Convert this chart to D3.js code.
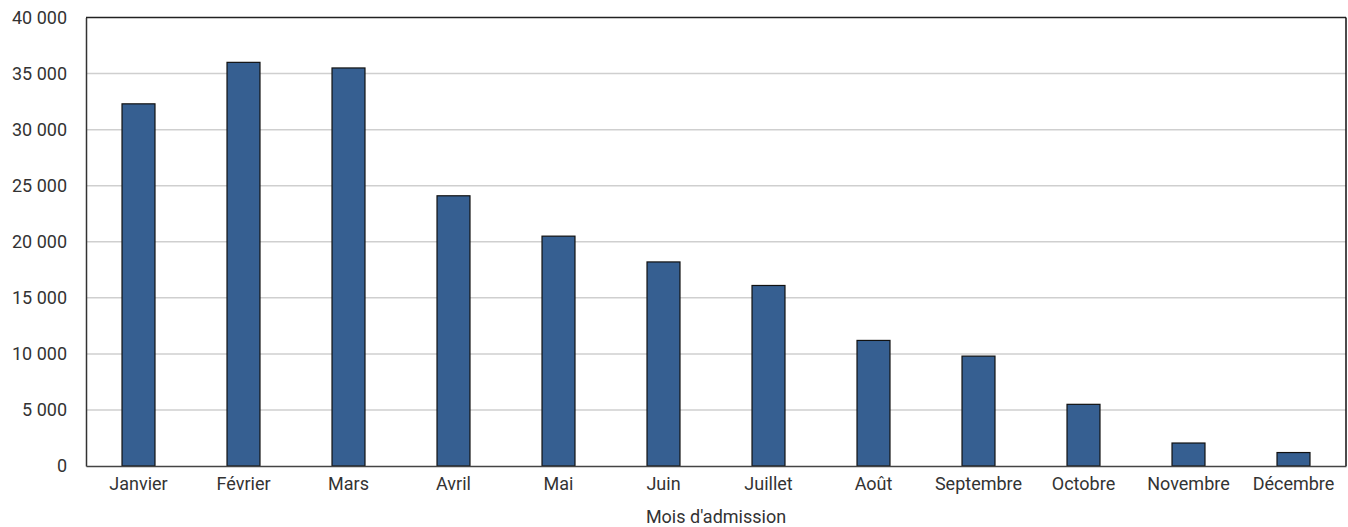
<!DOCTYPE html>
<html>
<head>
<meta charset="utf-8">
<script src="https://cdn.jsdelivr.net/npm/d3@7"></script>
<style>
  body { margin: 0; background: #fff; }
  text { font-family: "Liberation Sans Narrow", "Arial Narrow", "Roboto", sans-serif; fill: #333; }
</style>
</head>
<body>
<svg id="chart" width="1348" height="527"></svg>
<script>
// Data
const months = ["Janvier", "Février", "Mars", "Avril", "Mai", "Juin", "Juillet",
                "Août", "Septembre", "Octobre", "Novembre", "Décembre"];
const admissions = [32300, 36000, 35500, 24100, 20500, 18200, 16100,
                    11200, 9800, 5500, 2050, 1200];
const yTicks = [0, 5000, 10000, 15000, 20000, 25000, 30000, 35000, 40000];
const xTitle = "Mois d'admission";

// Layout
const svg = d3.select("#chart");
const margin = {top: 17.5, right: 2, bottom: 61, left: 86};
const width = 1348, height = 527;
const innerW = width - margin.left - margin.right;
const innerH = height - margin.top - margin.bottom;

const g = svg.append("g").attr("transform", `translate(${margin.left},${margin.top})`);

// Scales
const x = d3.scaleBand().domain(months).range([0, innerW]).paddingInner(0.686).paddingOuter(0.343);
const y = d3.scaleLinear().domain([0, 40000]).range([innerH, 0]);

const fmt = v => d3.format(",")(v).replace(/,/g, " ");

// Gridlines
g.append("g")
  .selectAll("line")
  .data(yTicks.filter(t => t > 0 && t < 40000))
  .join("line")
  .attr("x1", 0).attr("x2", innerW)
  .attr("y1", d => y(d)).attr("y2", d => y(d))
  .attr("stroke", "#cfcfcf").attr("stroke-width", 1.5);

// Bars
g.append("g")
  .selectAll("rect")
  .data(admissions)
  .join("rect")
  .attr("x", (d, i) => x(months[i]))
  .attr("y", d => y(d))
  .attr("width", x.bandwidth())
  .attr("height", d => innerH - y(d))
  .attr("fill", "#365f91")
  .attr("stroke", "#111")
  .attr("stroke-width", 1.2);

// Frame: top and right
g.append("line").attr("x1", 0).attr("x2", innerW).attr("y1", 0).attr("y2", 0)
  .attr("stroke", "#222").attr("stroke-width", 1.5);
g.append("line").attr("x1", innerW).attr("x2", innerW).attr("y1", 0).attr("y2", innerH)
  .attr("stroke", "#111").attr("stroke-width", 1.5);

// Y axis
const yAxis = g.append("g")
  .call(d3.axisLeft(y).tickValues(yTicks).tickSize(0).tickPadding(19).tickFormat(fmt));
yAxis.select(".domain").attr("stroke", "#333").attr("stroke-width", 1.5);
yAxis.selectAll("text").style("font-size", "18px").attr("fill", "#333");

// X axis
const xAxis = g.append("g")
  .attr("transform", `translate(0,${innerH})`)
  .call(d3.axisBottom(x).tickSize(0).tickPadding(11));
xAxis.select(".domain").attr("stroke", "#444").attr("stroke-width", 1.5);
xAxis.selectAll("text").style("font-size", "18px").attr("fill", "#333");

// X title
svg.append("text")
  .attr("x", margin.left + innerW / 2)
  .attr("y", 523)
  .attr("text-anchor", "middle")
  .style("font-size", "18px")
  .text(xTitle);
</script>
</body>
</html>
